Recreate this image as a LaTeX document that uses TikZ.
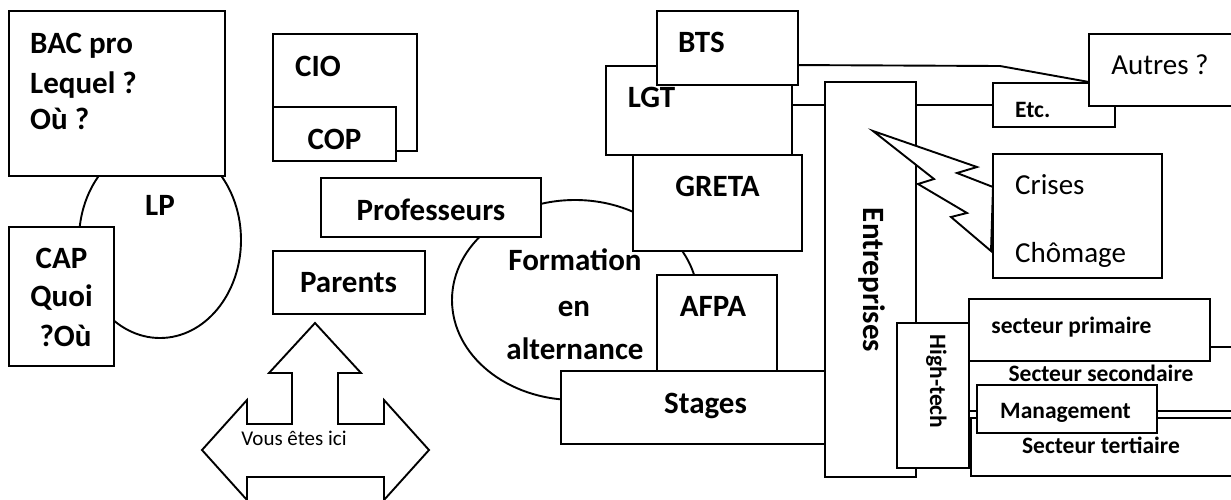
\documentclass[tikz,border=0pt]{standalone}
\usepackage{fontspec}
\setmainfont{Carlito}
\usetikzlibrary{fit,calc}
\tikzset{
  box/.style={draw,fill=white,line width=1.9pt,inner sep=0pt},
  big/.style={font=\bfseries\fontsize{31}{36}\selectfont,inner sep=0pt},
  mid/.style={font=\bfseries\fontsize{23.5}{28}\selectfont,inner sep=0pt},
  reg/.style={font=\fontsize{29}{34}\selectfont,inner sep=0pt},
  tiny/.style={font=\fontsize{21}{25}\selectfont,inner sep=0pt},
  link/.style={line width=1.9pt}
}
\begin{document}
\begin{tikzpicture}[x=1pt,y=-1pt]
\clip (0,0) rectangle (1231,499);
\fill[white] (0,0) rectangle (1231,499);
\draw[link,fill=white] (160,240) ellipse[x radius=81,y radius=98];
\draw[link,fill=white] (575,300) ellipse[x radius=123,y radius=100];
\node[box,fit={(9,11) (225,176)}] (bac) {};
\node[box,fit={(9,227) (114,366)}] (cap) {};
\node[box,fit={(273,34) (417,151)}] (cio) {};
\node[box,fit={(273,107) (396,161)}] (cop) {};
\node[box,fit={(321,178) (541,237)}] (prof) {};
\node[box,fit={(273,251) (425,314)}] (parents) {};
\draw[link,fill=white] (315,323) -- (361,373) -- (338,373) -- (338,424) -- (384,424) -- (384,400) -- (429,450) -- (384,500) -- (384,477) -- (247,477) -- (247,500) -- (202,450) -- (247,400) -- (247,424) -- (292,424) -- (292,373) -- (269,373) -- cycle;
\node[box,fit={(606,66) (792,155)}] (lgt) {};
\node[box,fit={(657,11) (798,85)}] (bts) {};
\node[box,fit={(633,155) (802,251)}] (greta) {};
\node[box,fit={(657,275) (777,372)}] (afpa) {};
\node[box,fit={(561,371) (825,444)}] (stages) {};
\node[box,fit={(825,82) (916,477)}] (ent) {};
\node[box,fit={(993,83) (1115,127)}] (etc) {};
\node[box,fit={(1089,34) (1240,106)}] (autres) {};
\coordinate (kink) at (1000,66);
\draw[link] (bts.east |- lgt.north) -- (kink) -- ($(autres.north west)!0.66!(autres.south west)$);
\draw[link] (lgt.east |- etc.west) -- (ent.west |- etc.west);
\draw[link] (ent.east |- etc.west) -- (etc.west);
\draw[link,fill=white] (873,131) -- (977,167) -- (957,173) -- (993,187) -- (991,251) -- (951,217) -- (967,213) -- (918,184) -- (934,179) -- cycle;
\node[box,fit={(993,154) (1162,278)}] (crises) {};
\node[box,fit={(969,347) (1240,411)}] (second) {};
\node[box,fit={(971,418) (1240,476)}] (tert) {};
\node[box,fit={(969,299) (1210,361)}] (prim) {};
\node[box,fit={(977,385) (1157,433)}] (manag) {};
\node[box,fit={(897,323) (969,468)}] (htech) {};
\node[big,anchor=base west] (bacA) at (30,53) {BAC pro};
\node[big,anchor=base west] (bacB) at (30,93) {Lequel ?};
\node[big,anchor=base west] (bacC) at (30,129) {Où ?};
\node[big,anchor=base] (lpT) at (160,215) {LP};
\node[big,anchor=base] (capA) at (61.5,268) {CAP};
\node[big,anchor=base] (capB) at (61.5,306) {Quoi};
\node[big,anchor=base] (capC) at (65.5,346) {?Où};
\node[big,anchor=base west] (cioT) at (295,76) {CIO};
\node[big,anchor=base] (copT) at (334.5,149) {COP};
\node[big,anchor=base] (profT) at (431,220) {Professeurs};
\node[big,anchor=base] (parT) at (348.5,292) {Parents};
\node[tiny,anchor=base] (vousT) at (294,445) {Vous êtes ici};
\node[big,anchor=base] (formA) at (575,270) {Formation};
\node[big,anchor=base] (formB) at (574,316) {en};
\node[big,anchor=base] (formC) at (575,359) {alternance};
\node[big,anchor=base] (btsT) at (701.5,52) {BTS};
\node[big,anchor=base] (lgtT) at (651.5,107) {LGT};
\node[big,anchor=base] (gretaT) at (717.5,196) {GRETA};
\node[big,anchor=base] (afpaT) at (713,316) {AFPA};
\node[big,anchor=base] (stagesT) at (705.5,413) {Stages};
\node[big,rotate=-90,anchor=base] (entT) at (863,280) {Entreprises};
\node[mid,rotate=-90,anchor=base] (htechT) at (930,381.5) {High-tech};
\node[reg,anchor=base] (autresT) at (1160,74) {Autres ?};
\node[mid,anchor=base west] (etcT) at (1015,117) {Etc.};
\node[reg,anchor=base west] (crisesT) at (1015,194) {Crises};
\node[reg,anchor=base west] (chomT) at (1015,262) {Chômage};
\node[mid,anchor=base] (primT) at (1071.5,333) {secteur primaire};
\node[mid,anchor=base] (secondT) at (1101,381) {Secteur secondaire};
\node[mid,anchor=base] (managT) at (1065.5,418) {Management};
\node[mid,anchor=base] (tertT) at (1101,453) {Secteur tertiaire};
\end{tikzpicture}
\end{document}
